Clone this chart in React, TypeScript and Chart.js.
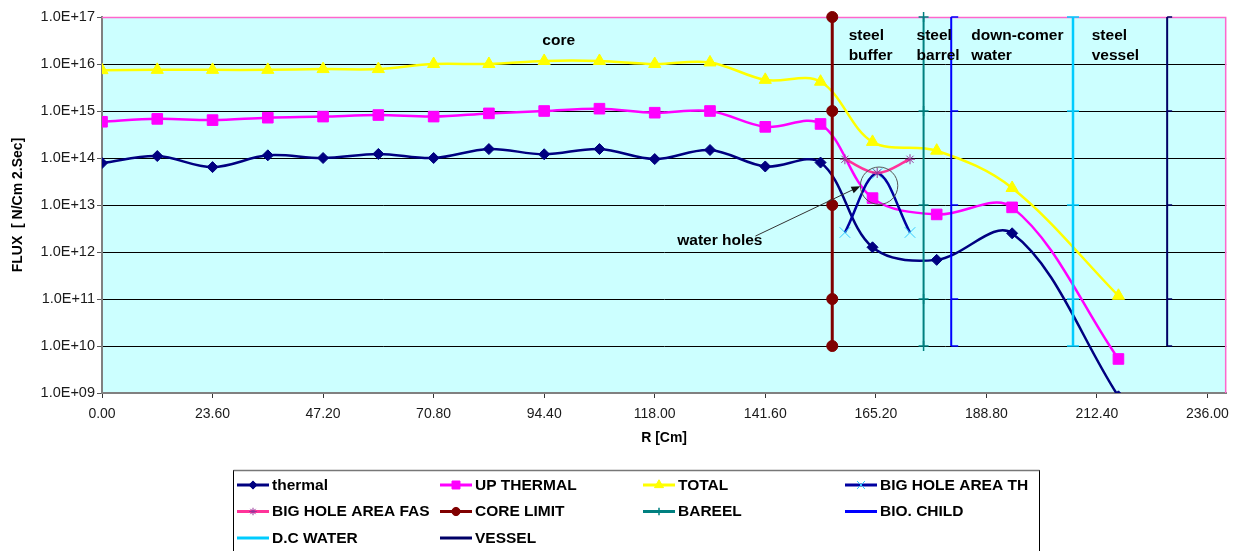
import React, { useEffect, useRef } from "react";
import { Chart, registerables } from "chart.js";

Chart.register(...registerables);

const FONT = '"Liberation Sans", Arial, Helvetica, sans-serif';

// ---- data ----
const R_MAIN = [0, 11.8, 23.6, 35.4, 47.2, 59, 70.8, 82.6, 94.4, 106.2, 118, 129.8, 141.6, 153.4, 164.5, 178.2, 194.3, 217];
const THERMAL = [7.8e13, 1.1e14, 6.4e13, 1.14e14, 1.0e14, 1.22e14, 1.0e14, 1.55e14, 1.2e14, 1.55e14, 9.5e13, 1.48e14, 6.6e13, 8.0e13, 1.26e12, 6.8e11, 2.5e12, 8.5e8];
const UP_THERMAL = [5.9e14, 6.8e14, 6.4e14, 7.2e14, 7.6e14, 8.2e14, 7.6e14, 8.9e14, 1.0e15, 1.12e15, 9.2e14, 1.0e15, 4.6e14, 5.3e14, 1.4e13, 6.3e12, 8.9e12, 5.3e9];
const TOTAL = [7.4e15, 7.5e15, 7.5e15, 7.5e15, 7.8e15, 7.8e15, 1.0e16, 1.0e16, 1.16e16, 1.16e16, 1.0e16, 1.08e16, 4.6e15, 4.2e15, 2.2e14, 1.43e14, 2.3e13, 1.17e11];

const R_HOLE = [158.6, 165.5, 172.5];
const BIG_HOLE_TH = [2.6e12, 4.7e13, 2.6e12];
const BIG_HOLE_FAS = [9.4e13, 4.8e13, 9.4e13];

const BOUNDARY_LEVELS = [1e17, 1e15, 1e13, 1e11, 1e10];
const R_CORE_LIMIT = 155.9;
const R_BAREEL = 175.4;
const R_BIO_CHILD = 181.3;
const R_DC_WATER = 207.3;
const R_VESSEL = 227.4;

const X_TICKS = [0, 23.6, 47.2, 70.8, 94.4, 118, 141.6, 165.2, 188.8, 212.4, 236];
const Y_TICKS = [1e9, 1e10, 1e11, 1e12, 1e13, 1e14, 1e15, 1e16, 1e17];

const TEXT_NOTES = [
  { lines: ["core"], r: 94.0, flux: 2.5e16 },
  { lines: ["steel", "buffer"], r: 159.4, flux: 3.3e16 },
  { lines: ["steel", "barrel"], r: 173.9, flux: 3.3e16 },
  { lines: ["down-comer", "water"], r: 185.6, flux: 3.3e16 },
  { lines: ["steel", "vessel"], r: 211.3, flux: 3.3e16 },
  { lines: ["water holes"], r: 122.8, flux: 1.4e12 },
];
const ARROW_FROM = { r: 139.5, flux: 2.18e12 };
const ARROW_TO = { r: 161.9, flux: 2.52e13 };
const CIRCLE_AT = { r: 165.9, flux: 2.57e13 };

const pts = (xs: number[], ys: number[]) => xs.map((x, i) => ({ x, y: ys[i] }));
const vpts = (x: number) => BOUNDARY_LEVELS.map((y) => ({ x, y }));

const fmtExp = (v: number) => {
  const e = Math.round(Math.log10(v));
  const m = v / Math.pow(10, e);
  return m.toFixed(1) + "E" + (e < 0 ? "-" : "+") + String(Math.abs(e)).padStart(2, "0");
};

type Series = {
  label: string;
  data: { x: number; y: number }[];
  color: string;
  width: number;
  style: string;
  radius: number;
  mFill: string;
  mStroke: string;
  mWidth: number;
  tension: number;
  vertical?: boolean;
  legendMarker: boolean;
};

const SERIES: Series[] = [
  { label: "thermal", data: pts(R_MAIN, THERMAL), color: "#000080", width: 2.5, style: "rectRot", radius: 5.5, mFill: "#000080", mStroke: "#000080", mWidth: 1, tension: 0.35, legendMarker: true },
  { label: "UP THERMAL", data: pts(R_MAIN, UP_THERMAL), color: "#FF00FF", width: 2.5, style: "rect", radius: 7.5, mFill: "#FF00FF", mStroke: "#FF00FF", mWidth: 1, tension: 0.35, legendMarker: true },
  { label: "TOTAL", data: pts(R_MAIN, TOTAL), color: "#FFFF00", width: 2.5, style: "triangle", radius: 7, mFill: "#FFFF00", mStroke: "#FFFF00", mWidth: 1, tension: 0.35, legendMarker: true },
  { label: "BIG HOLE AREA TH", data: pts(R_HOLE, BIG_HOLE_TH), color: "#0000A0", width: 2.5, style: "crossRot", radius: 7.5, mFill: "#33CCFF", mStroke: "#33CCFF", mWidth: 1, tension: 0.35, legendMarker: true },
  { label: "BIG HOLE AREA FAS", data: pts(R_HOLE, BIG_HOLE_FAS), color: "#FF3399", width: 2.5, style: "star", radius: 5, mFill: "#993399", mStroke: "#993399", mWidth: 1, tension: 0.35, legendMarker: true },
  { label: "CORE LIMIT", data: vpts(R_CORE_LIMIT), color: "#800000", width: 3, style: "circle", radius: 5.5, mFill: "#800000", mStroke: "#800000", mWidth: 1, tension: 0, vertical: true, legendMarker: true },
  { label: "BAREEL", data: vpts(R_BAREEL), color: "#008080", width: 2, style: "cross", radius: 5, mFill: "#008080", mStroke: "#008080", mWidth: 1.5, tension: 0, vertical: true, legendMarker: true },
  { label: "BIO. CHILD", data: vpts(R_BIO_CHILD), color: "#0000FF", width: 2, style: "dash", radius: 7, mFill: "#0000FF", mStroke: "#0000FF", mWidth: 1.5, tension: 0, vertical: true, legendMarker: false },
  { label: "D.C WATER", data: vpts(R_DC_WATER), color: "#00CCFF", width: 2.5, style: "line", radius: 6, mFill: "#00CCFF", mStroke: "#00CCFF", mWidth: 1.5, tension: 0, vertical: true, legendMarker: false },
  { label: "VESSEL", data: vpts(R_VESSEL), color: "#000066", width: 2, style: "dash", radius: 5, mFill: "#000066", mStroke: "#000066", mWidth: 1.5, tension: 0, vertical: true, legendMarker: false },
];

function drawMarker(ctx: CanvasRenderingContext2D, style: string, x: number, y: number, r: number, fill: string, stroke: string, lw: number) {
  ctx.save();
  ctx.fillStyle = fill;
  ctx.strokeStyle = stroke;
  ctx.lineWidth = lw;
  ctx.beginPath();
  const d = r * Math.SQRT1_2;
  switch (style) {
    case "rectRot":
      ctx.moveTo(x - r, y); ctx.lineTo(x, y - r); ctx.lineTo(x + r, y); ctx.lineTo(x, y + r); ctx.closePath();
      ctx.fill(); ctx.stroke(); break;
    case "rect":
      ctx.rect(x - d, y - d, 2 * d, 2 * d); ctx.fill(); ctx.stroke(); break;
    case "triangle":
      ctx.moveTo(x, y - r); ctx.lineTo(x + r * 0.866, y + r * 0.5); ctx.lineTo(x - r * 0.866, y + r * 0.5); ctx.closePath();
      ctx.fill(); ctx.stroke(); break;
    case "circle":
      ctx.arc(x, y, r, 0, Math.PI * 2); ctx.fill(); ctx.stroke(); break;
    case "cross":
      ctx.moveTo(x - r, y); ctx.lineTo(x + r, y); ctx.moveTo(x, y - r); ctx.lineTo(x, y + r); ctx.stroke(); break;
    case "crossRot":
      ctx.moveTo(x - d, y - d); ctx.lineTo(x + d, y + d); ctx.moveTo(x + d, y - d); ctx.lineTo(x - d, y + d); ctx.stroke(); break;
    case "star":
      ctx.moveTo(x - r, y); ctx.lineTo(x + r, y); ctx.moveTo(x, y - r); ctx.lineTo(x, y + r);
      ctx.moveTo(x - d, y - d); ctx.lineTo(x + d, y + d); ctx.moveTo(x + d, y - d); ctx.lineTo(x - d, y + d); ctx.stroke(); break;
  }
  ctx.restore();
}

const LEGEND_COLS = [237, 440, 643, 845];
const LEGEND_ROWS = [485, 511.5, 538];

const decorPlugin = {
  id: "decor",
  beforeDraw(chart: any) {
    const { ctx, chartArea: a } = chart;
    ctx.save();
    ctx.fillStyle = "#CCFFFF";
    ctx.fillRect(a.left, a.top, a.right - a.left, a.bottom - a.top);
    ctx.restore();
  },
  beforeDatasetsDraw(chart: any) {
    const { ctx, chartArea: a } = chart;
    ctx.save();
    ctx.strokeStyle = "#FF66CC";
    ctx.lineWidth = 1.5;
    ctx.beginPath();
    ctx.moveTo(a.left, a.top + 0.5);
    ctx.lineTo(a.right - 0.5, a.top + 0.5);
    ctx.lineTo(a.right - 0.5, a.bottom);
    ctx.stroke();
    ctx.restore();
  },
  afterDatasetsDraw(chart: any) {
    const { ctx } = chart;
    const xs = chart.scales.x;
    const ys = chart.scales.y;
    ctx.save();
    ctx.fillStyle = "#000";
    ctx.font = `bold 15.5px ${FONT}`;
    ctx.textAlign = "left";
    ctx.textBaseline = "alphabetic";
    TEXT_NOTES.forEach((n) => {
      const px = xs.getPixelForValue(n.r);
      const py = ys.getPixelForValue(n.flux);
      n.lines.forEach((t, i) => ctx.fillText(t, px, py + i * 20));
    });
    // arrow
    const x1 = xs.getPixelForValue(ARROW_FROM.r), y1 = ys.getPixelForValue(ARROW_FROM.flux);
    const x2 = xs.getPixelForValue(ARROW_TO.r), y2 = ys.getPixelForValue(ARROW_TO.flux);
    const ang = Math.atan2(y2 - y1, x2 - x1);
    ctx.strokeStyle = "#333";
    ctx.fillStyle = "#111";
    ctx.lineWidth = 1;
    ctx.beginPath();
    ctx.moveTo(x1, y1);
    ctx.lineTo(x2 - 7 * Math.cos(ang), y2 - 7 * Math.sin(ang));
    ctx.stroke();
    ctx.beginPath();
    ctx.moveTo(x2, y2);
    ctx.lineTo(x2 - 9 * Math.cos(ang) + 3.5 * Math.sin(ang), y2 - 9 * Math.sin(ang) - 3.5 * Math.cos(ang));
    ctx.lineTo(x2 - 9 * Math.cos(ang) - 3.5 * Math.sin(ang), y2 - 9 * Math.sin(ang) + 3.5 * Math.cos(ang));
    ctx.closePath();
    ctx.fill();
    // circle
    const cx = xs.getPixelForValue(CIRCLE_AT.r), cy = ys.getPixelForValue(CIRCLE_AT.flux);
    ctx.strokeStyle = "#555";
    ctx.beginPath();
    ctx.arc(cx, cy, 18.7, 0, Math.PI * 2);
    ctx.stroke();
    ctx.restore();
  },
  afterDraw(chart: any) {
    const { ctx } = chart;
    ctx.save();
    ctx.strokeStyle = "#000";
    ctx.lineWidth = 1;
    ctx.strokeRect(233.5, 470.5, 806, 100);
    ctx.strokeStyle = "#777";
    ctx.lineWidth = 1.5;
    ctx.beginPath();
    ctx.moveTo(233.5, 470.5);
    ctx.lineTo(1039.5, 470.5);
    ctx.stroke();
    ctx.font = `bold 15.5px ${FONT}`;
    ctx.textBaseline = "middle";
    ctx.textAlign = "left";
    SERIES.forEach((s, i) => {
      const x = LEGEND_COLS[i % 4];
      const y = LEGEND_ROWS[Math.floor(i / 4)];
      ctx.strokeStyle = s.color;
      ctx.lineWidth = 3;
      ctx.beginPath();
      ctx.moveTo(x, y);
      ctx.lineTo(x + 32, y);
      ctx.stroke();
      if (s.legendMarker) {
        drawMarker(ctx, s.style, x + 16, y, s.radius * 0.75, s.mFill, s.mStroke, s.mWidth);
      }
      ctx.fillStyle = "#000";
      ctx.fillText(s.label, x + 35, y + 0.5);
    });
    ctx.restore();
  },
};

export default function App() {
  const ref = useRef<HTMLCanvasElement | null>(null);
  useEffect(() => {
    if (!ref.current) return;
    const datasets = SERIES.map((s, i) => ({
      label: s.label,
      data: s.data,
      borderColor: s.color,
      backgroundColor: s.color,
      borderWidth: s.width,
      pointStyle: s.style,
      pointRadius: s.radius,
      pointBackgroundColor: s.mFill,
      pointBorderColor: s.mStroke,
      pointBorderWidth: s.mWidth,
      tension: s.tension,
      fill: false,
      order: SERIES.length - i,
      clip: s.vertical ? false : undefined,
    }));
    const chart = new Chart(ref.current, {
      type: "line",
      data: { datasets },
      plugins: [decorPlugin],
      options: {
        animation: false,
        responsive: false,
        devicePixelRatio: 1,
        layout: { padding: { left: 0, right: 9, top: 17, bottom: 98 } },
        plugins: { legend: { display: false }, tooltip: { enabled: false } },
        scales: {
          x: {
            type: "linear",
            min: 0,
            max: 240,
            afterBuildTicks: (sc: any) => { sc.ticks = X_TICKS.map((v) => ({ value: v })); },
            afterFit: (sc: any) => { sc.height = 60; },
            ticks: {
              callback: (v: any) => Number(v).toFixed(2),
              font: { family: FONT, size: 14 },
              color: "#1a1a1a",
              padding: 8,
              maxRotation: 0,
              autoSkip: false,
            },
            grid: { drawOnChartArea: false, drawTicks: true, tickLength: 5, color: "#333", tickColor: "#333" },
            border: { color: "#808080", width: 2 },
            title: { display: true, text: "R [Cm]", font: { family: FONT, size: 14, weight: "bold" }, color: "#000", padding: { top: 0, bottom: 6.6 } },
          },
          y: {
            type: "logarithmic",
            min: 1e9,
            max: 1e17,
            afterBuildTicks: (sc: any) => { sc.ticks = Y_TICKS.map((v) => ({ value: v })); },
            afterFit: (sc: any) => { sc.width = 102; },
            ticks: {
              callback: (v: any) => fmtExp(Number(v)),
              font: { family: FONT, size: 14.5 },
              color: "#1a1a1a",
              padding: 2,
              autoSkip: false,
            },
            grid: {
              color: (c: any) => (c.tick && c.tick.value >= 1e17 ? "rgba(0,0,0,0)" : "#000"),
              tickColor: "#555",
              tickLength: 5,
              lineWidth: 1,
            },
            border: { color: "#808080", width: 2 },
            title: { display: true, text: "FLUX  [ N/Cm 2.Sec]", font: { family: FONT, size: 14, weight: "bold" }, color: "#000", padding: { top: 9.6, bottom: 0 } },
          },
        },
      } as any,
    });
    return () => chart.destroy();
  }, []);
  return (
    <div style={{ position: "fixed", left: 0, top: 0, width: 1237, height: 551, background: "#fff" }}>
      <canvas ref={ref} width={1237} height={551} style={{ display: "block" }} />
    </div>
  );
}
